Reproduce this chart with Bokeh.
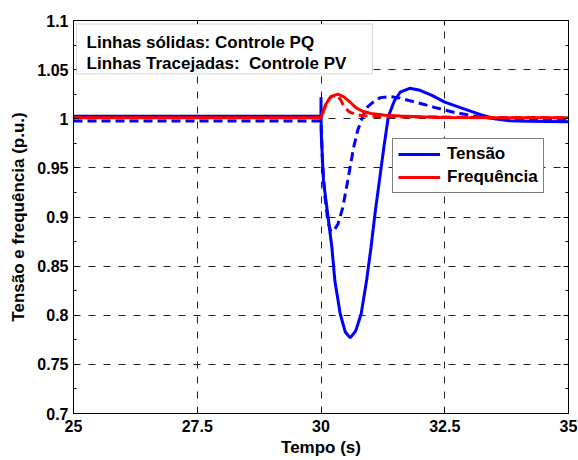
from bokeh.plotting import figure
from bokeh.models import (Range1d, FixedTicker, LinearAxis, Legend, LegendItem,
                          BoxAnnotation, Label)
from bokeh.embed import file_html
from bokeh.resources import INLINE

# ---- data ----
t_pq_v = [25.0, 29.999, 30.0, 30.005, 30.05, 30.135, 30.22, 30.28, 30.39, 30.49, 30.59,
          30.70, 30.81, 30.92, 31.01, 31.09, 31.18, 31.27, 31.36, 31.48, 31.60, 31.79,
          32.00, 32.23, 32.50, 32.83, 33.24, 33.51, 33.80, 34.18, 35.0]
v_pq = [1.0025, 1.0025, 1.022, 0.985, 0.937, 0.903, 0.869, 0.835, 0.801, 0.783, 0.777,
        0.784, 0.801, 0.835, 0.869, 0.903, 0.937, 0.971, 1.002, 1.018, 1.027, 1.031,
        1.029, 1.024, 1.017, 1.011, 1.004, 1.000, 0.998, 0.9975, 0.997]

t_pv_v = [25.0, 29.999, 30.01, 30.03, 30.08, 30.14, 30.20, 30.27, 30.34, 30.44, 30.54,
          30.66, 30.74, 30.84, 30.94, 31.08, 31.20, 31.40, 31.60, 31.82, 32.05, 32.29,
          32.70, 33.17, 33.60, 34.20, 35.0]
v_pv = [0.9977, 0.9977, 0.985, 0.954, 0.920, 0.895, 0.885, 0.887, 0.8925, 0.9095, 0.937,
        0.971, 0.988, 1.002, 1.012, 1.018, 1.0215, 1.0225, 1.021, 1.018, 1.015, 1.0116,
        1.0064, 1.002, 0.9997, 0.999, 0.999]

t_pq_f = [25.0, 30.0, 30.10, 30.20, 30.34, 30.47, 30.61, 30.71, 30.84, 31.01, 31.30,
          31.60, 32.00, 32.50, 35.0]
f_pq = [1.001, 1.001, 1.015, 1.0225, 1.025, 1.022, 1.0158, 1.011, 1.0076, 1.0054, 1.0035,
        1.0028, 1.002, 1.0012, 1.001]

t_pv_f = [25.0, 30.0, 30.10, 30.20, 30.32, 30.40, 30.47, 30.57, 30.71, 30.84, 31.20, 35.0]
f_pv = [1.001, 1.001, 1.015, 1.0225, 1.024, 1.019, 1.012, 1.007, 1.0044, 1.003, 1.002, 1.001]

x_ticks = [25, 27.5, 30, 32.5, 35]
x_tick_labels = ["25", "27.5", "30", "32.5", "35"]
y_ticks = [0.7, 0.75, 0.8, 0.85, 0.9, 0.95, 1.0, 1.05, 1.1]
y_tick_labels = ["0.7", "0.75", "0.8", "0.85", "0.9", "0.95", "1", "1.05", "1.1"]
y_minor = [0.725, 0.775, 0.825, 0.875, 0.925, 0.975, 1.025, 1.075]

FONT = "Liberation Sans"

p = figure(width=578, height=460, x_range=Range1d(25, 35), y_range=Range1d(0.7, 1.1),
           output_backend="svg", toolbar_location=None,
           min_border_left=73, min_border_right=10, min_border_top=20, min_border_bottom=47,
           background_fill_color="white", border_fill_color="white")
p.outline_line_color = "black"
p.outline_line_width = 1

xt = FixedTicker(ticks=x_ticks)
yt = FixedTicker(ticks=y_ticks, minor_ticks=y_minor)


def style_axis(ax, ticker, labels, show):
    ax.ticker = ticker
    ax.axis_line_color = "black"
    ax.major_tick_in = 5
    ax.major_tick_out = 0
    ax.minor_tick_in = 3
    ax.minor_tick_out = 0
    ax.major_tick_line_color = "black"
    ax.minor_tick_line_color = "black"
    ax.major_label_text_font = FONT
    ax.major_label_text_font_style = "bold"
    ax.major_label_text_color = "black"
    ax.major_label_text_font_size = "16px"
    ax.axis_label_text_font = FONT
    ax.axis_label_text_font_style = "bold"
    ax.axis_label_text_font_size = "17px"
    ax.axis_label_text_color = "black"
    if show:
        ax.major_label_overrides = dict(zip(ticker.ticks, labels))
    else:
        ax.major_label_overrides = {tk: "" for tk in ticker.ticks}
        ax.major_label_standoff = 0


p.xaxis.axis_label = "Tempo (s)"
p.yaxis.axis_label = "Tensão e frequência (p.u.)"
style_axis(p.xaxis[0], xt, x_tick_labels, True)
style_axis(p.yaxis[0], yt, y_tick_labels, True)
p.xaxis.minor_tick_line_color = None
p.xaxis.major_label_standoff = 6
p.yaxis.major_label_standoff = 5
p.xaxis.axis_label_standoff = 3
p.yaxis.axis_label_standoff = 6

ax_r = LinearAxis()
style_axis(ax_r, yt, y_tick_labels, False)
p.add_layout(ax_r, "right")
ax_t = LinearAxis()
style_axis(ax_t, xt, x_tick_labels, False)
ax_t.minor_tick_line_color = None
p.add_layout(ax_t, "above")

p.xgrid.ticker = xt
p.ygrid.ticker = yt
for g in (p.xgrid[0], p.ygrid[0]):
    g.grid_line_color = "#222222"
    g.grid_line_dash = "7 8"
    g.grid_line_width = 1

r_pq_v = p.line(t_pq_v, v_pq, line_color="#0000ff", line_width=3)
r_pv_v = p.line(t_pv_v, v_pv, line_color="#0000ff", line_width=3, line_dash="9 5")
r_pq_f = p.line(t_pq_f, f_pq, line_color="#ff0000", line_width=3)
r_pv_f = p.line(t_pv_f, f_pv, line_color="#ff0000", line_width=3, line_dash="9 5")

legend = Legend(items=[LegendItem(label="Tensão", renderers=[r_pq_v]),
                       LegendItem(label="Frequência", renderers=[r_pq_f])],
                location=(319, 220))
legend.border_line_color = "black"
legend.border_line_width = 1
legend.background_fill_color = "white"
legend.background_fill_alpha = 1
legend.padding = 5
legend.margin = 0
legend.spacing = 3
legend.glyph_width = 42
legend.glyph_height = 20
legend.label_height = 20
legend.label_standoff = 7
legend.label_text_font = FONT
legend.label_text_font_style = "bold"
legend.label_text_font_size = "17px"
legend.label_text_color = "black"
p.add_layout(legend, "center")

box = BoxAnnotation(left=25.06, right=31.04, top=1.0964, bottom=1.0457,
                    fill_color="white", fill_alpha=1, line_color="#777777", line_width=1)
p.add_layout(box)
for txt, yy in (("Linhas sólidas: Controle PQ", 1.0772),
                ("Linhas Tracejadas:\u00a0 Controle PV", 1.0558)):
    p.add_layout(Label(x=25.263, y=yy, text=txt, text_font=FONT, text_font_style="bold",
                       text_font_size="17px", text_color="black",
                       text_baseline="alphabetic"))

open("out.html", "w").write(file_html(p, INLINE))
